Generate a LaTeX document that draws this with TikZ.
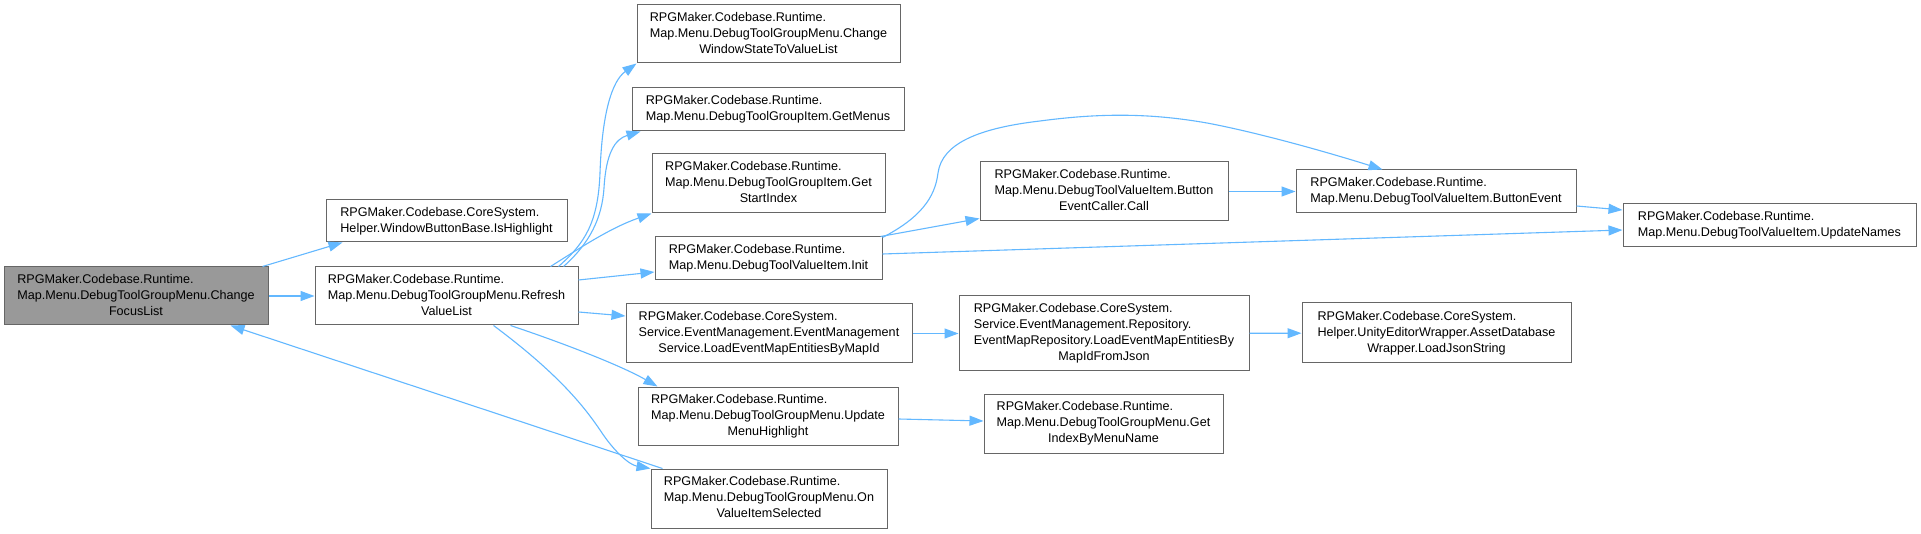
\documentclass[tikz,border=0pt]{standalone}
\usepackage{fontspec}
\setmainfont{Liberation Sans}
\usetikzlibrary{arrows.meta}
\definecolor{edgeblue}{RGB}{99,184,255}
\definecolor{boxline}{RGB}{102,102,102}
\definecolor{hilite}{RGB}{153,153,153}
\newcommand\lnstwo[2]{\begin{tabular}{@{}l@{}}#1\\#2\end{tabular}}
\newcommand\lnsthree[3]{\begin{tabular}{@{}l@{}}#1\\#2\\\multicolumn{1}{@{}c@{}}{#3}\end{tabular}}
\newcommand\lnsfour[4]{\begin{tabular}{@{}l@{}}#1\\#2\\#3\\\multicolumn{1}{@{}c@{}}{#4}\end{tabular}}
\begin{document}
\begin{tikzpicture}[x=1pt,y=1pt,
  box/.style={draw=boxline, fill=white, line width=1pt, inner sep=0pt, rectangle,
    font=\fontsize{12.6}{16}\selectfont, text=black},
  focus/.style={box, fill=hilite},
  edge/.style={draw=edgeblue, line width=1.1pt, -{Triangle[length=14pt,width=10pt]}, fill=none}]
\useasboundingbox (0,0) rectangle (1921,533);
\fill[white] (0,0) rectangle (1921,533);

% nodes
\node[focus, minimum width=264pt, minimum height=58pt] (cfl) at (136,237)
  {\lnsthree{RPGMaker.Codebase.Runtime.}{Map.Menu.DebugToolGroupMenu.Change}{FocusList}};
\node[box, minimum width=241pt, minimum height=42pt] (ish) at (446.5,312)
  {\lnstwo{RPGMaker.Codebase.CoreSystem.}{Helper.WindowButtonBase.IsHighlight}};
\node[box, minimum width=263pt, minimum height=58pt] (rvl) at (446.5,237)
  {\lnsthree{RPGMaker.Codebase.Runtime.}{Map.Menu.DebugToolGroupMenu.Refresh}{ValueList}};
\node[box, minimum width=263pt, minimum height=58pt] (cws) at (768.5,499)
  {\lnsthree{RPGMaker.Codebase.Runtime.}{Map.Menu.DebugToolGroupMenu.Change}{WindowStateToValueList}};
\node[box, minimum width=272pt, minimum height=43pt] (gm) at (768,423.5)
  {\lnstwo{RPGMaker.Codebase.Runtime.}{Map.Menu.DebugToolGroupItem.GetMenus}};
\node[box, minimum width=233pt, minimum height=59pt] (gsi) at (768.5,349.5)
  {\lnsthree{RPGMaker.Codebase.Runtime.}{Map.Menu.DebugToolGroupItem.Get}{StartIndex}};
\node[box, minimum width=227pt, minimum height=43pt] (init) at (768.5,274.5)
  {\lnstwo{RPGMaker.Codebase.Runtime.}{Map.Menu.DebugToolValueItem.Init}};
\node[box, minimum width=286pt, minimum height=59pt] (lem) at (769,199.5)
  {\lnsthree{RPGMaker.Codebase.CoreSystem.}{Service.EventManagement.EventManagement}{Service.LoadEventMapEntitiesByMapId}};
\node[box, minimum width=260pt, minimum height=58pt] (umh) at (768,117)
  {\lnsthree{RPGMaker.Codebase.Runtime.}{Map.Menu.DebugToolGroupMenu.Update}{MenuHighlight}};
\node[box, minimum width=236pt, minimum height=59pt] (ovis) at (769,34.5)
  {\lnsthree{RPGMaker.Codebase.Runtime.}{Map.Menu.DebugToolGroupMenu.On}{ValueItemSelected}};
\node[box, minimum width=248pt, minimum height=59pt] (bec) at (1104,341.5)
  {\lnsthree{RPGMaker.Codebase.Runtime.}{Map.Menu.DebugToolValueItem.Button}{EventCaller.Call}};
\node[box, minimum width=290pt, minimum height=75pt] (emr) at (1104,199.5)
  {\lnsfour{RPGMaker.Codebase.CoreSystem.}{Service.EventManagement.Repository.}{EventMapRepository.LoadEventMapEntitiesBy}{MapIdFromJson}};
\node[box, minimum width=239pt, minimum height=59pt] (gib) at (1103.5,109.5)
  {\lnsthree{RPGMaker.Codebase.Runtime.}{Map.Menu.DebugToolGroupMenu.Get}{IndexByMenuName}};
\node[box, minimum width=280pt, minimum height=43pt] (be) at (1436,341.5)
  {\lnstwo{RPGMaker.Codebase.Runtime.}{Map.Menu.DebugToolValueItem.ButtonEvent}};
\node[box, minimum width=269pt, minimum height=60pt] (ljs) at (1436.5,200)
  {\lnsthree{RPGMaker.Codebase.CoreSystem.}{Helper.UnityEditorWrapper.AssetDatabase}{Wrapper.LoadJsonString}};
\node[box, minimum width=293pt, minimum height=43pt] (un) at (1769.5,307.5)
  {\lnstwo{RPGMaker.Codebase.Runtime.}{Map.Menu.DebugToolValueItem.UpdateNames}};

% edges
\draw[edge] ([xshift=-6pt]cfl.north east) -- ([xshift=17pt]ish.south west);
\draw[edge] (cfl) -- (rvl);
\draw[edge] ([xshift=12pt]ovis.north west) -- ([xshift=-38pt]cfl.south east);
\draw[edge] ([xshift=-20pt]rvl.north east) .. controls (585,290) and (598,310) .. (600,360)
  .. controls (602,420) and (612,452) .. (cws.south west);
\draw[edge] ([xshift=-15pt]rvl.north east) .. controls (590,290) and (602,315) .. (604,345)
  .. controls (606,380) and (615,394) .. ([xshift=9pt]gm.south west);
\draw[edge] ([xshift=-28pt]rvl.north east) .. controls (580,285) and (610,305) .. (gsi.south west);
\draw[edge] ([yshift=16pt]rvl.east) -- ([yshift=-13.5pt]init.west);
\draw[edge] ([yshift=-16pt]rvl.east) -- ([yshift=17.5pt]lem.west);
\draw[edge] ([xshift=-68pt]rvl.south east) .. controls (560,191) and (620,168) .. ([xshift=20pt]umh.north west);
\draw[edge] ([xshift=-85pt]rvl.south east) .. controls (560,158) and (585,125) .. (600,103)
  .. controls (615,80) and (630,68) .. (ovis.north west);
\draw[edge] ([xshift=-2pt]init.north east) -- ([yshift=3pt]bec.south west);
\draw[edge] ([yshift=-1pt]init.north east) .. controls (920,315) and (935,335) .. (938,360)
  .. controls (942,390) and (980,405) .. (1040,412)
  .. controls (1100,420) and (1150,420) .. (1207,410)
  .. controls (1260,400) and (1330,380) .. ([xshift=87pt]be.north west);
\draw[edge] ([yshift=4.5pt]init.east) -- ([yshift=-4.5pt]un.west);
\draw[edge] (bec) -- (be);
\draw[edge] ([yshift=-14.5pt]be.east) -- ([yshift=15.5pt]un.west);
\draw[edge] (lem) -- (emr);
\draw[edge] (emr) -- (ljs);
\draw[edge] ([yshift=-3pt]umh.east) -- ([yshift=2.5pt]gib.west);
\end{tikzpicture}
\end{document}
